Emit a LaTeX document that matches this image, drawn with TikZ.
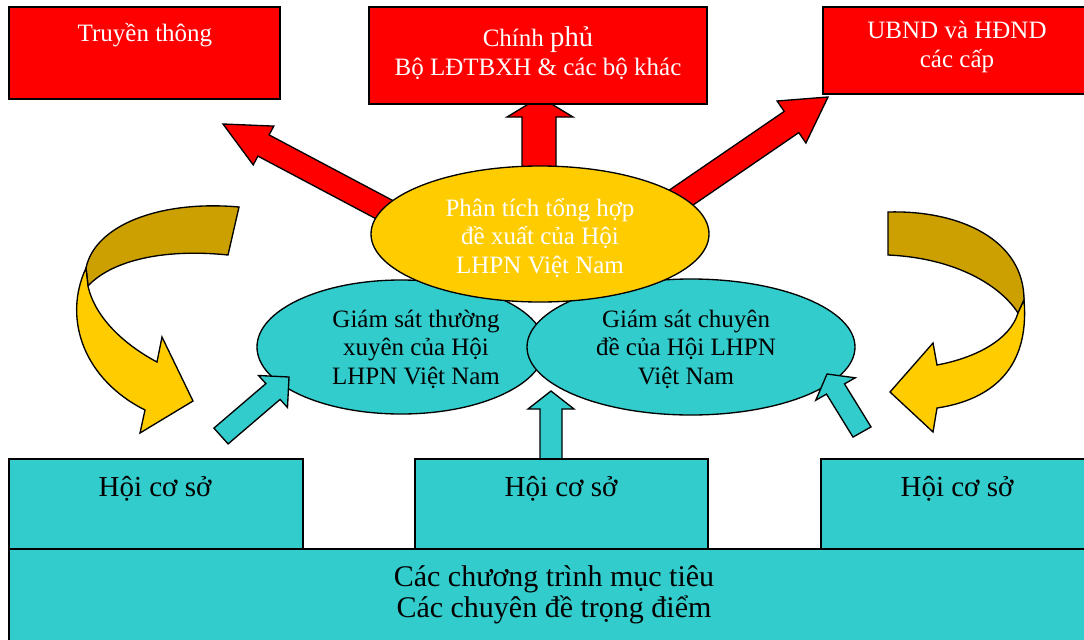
\documentclass[tikz,border=0pt]{standalone}
\usepackage{fontspec}
\setmainfont{Liberation Serif}
\usetikzlibrary{shapes.geometric}
\definecolor{rd}{RGB}{255,0,0}
\definecolor{cy}{RGB}{51,204,204}
\definecolor{yl}{RGB}{255,204,0}
\definecolor{gd}{RGB}{204,160,0}
\tikzset{
  box/.style={draw=black, line width=1pt, rectangle, inner sep=0pt},
  redbox/.style={box, fill=rd},
  cyanbox/.style={box, fill=cy},
  ell/.style={draw=black, line width=1pt, ellipse, inner sep=0pt},
  blockred/.style={draw=black, line width=1pt, fill=rd, line join=miter},
  blockcy/.style={draw=black, line width=1pt, fill=cy, line join=miter},
  curvdark/.style={draw=black, line width=1pt, fill=gd, line join=miter},
  curvyel/.style={draw=black, line width=1pt, fill=yl, line join=miter},
  wtxt/.style={text=white, align=center, inner sep=0pt, font=\fontsize{18.75pt}{21.75pt}\selectfont},
  etxt/.style={align=center, inner sep=0pt, font=\fontsize{18.75pt}{21.4pt}\selectfont},
  htxt/.style={align=center, inner sep=0pt, font=\fontsize{21.75pt}{24pt}\selectfont},
  btxt/.style={align=center, inner sep=0pt, font=\fontsize{22.5pt}{23.25pt}\selectfont}
}
\begin{document}
\begin{tikzpicture}[x=0.75pt,y=-0.75pt]
\useasboundingbox (0,0) rectangle (1084,639);
\clip (0,0) rectangle (1084,639);

% red block arrows (behind)
\draw[blockred] (540,97) -- (573,117) -- (556,117) -- (556,200) -- (522,200) -- (522,117) -- (507,117) -- cycle;
\draw[blockred] (223,124) -- (273.8,126.1) -- (269.1,134.9) -- (401.6,205.2) -- (390.4,226.4) -- (257.9,156.1) -- (253.2,164.9) -- cycle;
\draw[blockred] (828,97) -- (777.1,101) -- (784.2,111.4) -- (660.5,196.1) -- (675,217.4) -- (798.8,132.6) -- (805.9,143) -- cycle;

% top boxes
\node[redbox, minimum width=203.25pt, minimum height=69pt] (tt) at (144.5,53) {};
\node[redbox, minimum width=253.5pt, minimum height=72.75pt] (cp) at (538,55.5) {};
\node[redbox, minimum width=207.75pt, minimum height=65.25pt] (ub) at (961.5,50.5) {};
\node[wtxt] (tttext) at (145,35) {Truyền thông};
\node[wtxt] (cptext) at (538,53) {Chính {\fontsize{21.5pt}{21.75pt}\selectfont phủ}\\Bộ LĐTBXH \& các bộ khác};
\node[wtxt] (ubtext) at (957,47) {UBND và HĐND\\các cấp};

% ellipses
\node[ell, fill=cy, minimum width=216pt, minimum height=100.5pt] (gl) at (401,347) {};
\node[ell, fill=cy, minimum width=246pt, minimum height=102pt] (gr) at (691,347) {};
\node[ell, fill=yl, minimum width=253.5pt, minimum height=102pt] (yel) at (540,234) {};
\node[etxt, text=white] (yeltext) at (540,238) {Phân tích tổng hợp\\đề xuất của Hội\\LHPN Việt Nam};
\node[etxt] (gltext) at (416,349) {Giám sát thường\\xuyên của Hội\\LHPN Việt Nam};
\node[etxt] (grtext) at (686,349) {Giám sát chuyên\\đề của Hội LHPN\\Việt Nam};

% cyan block arrows
\draw[blockcy] (289,377) -- (258.5,375.5) -- (265.9,383.6) -- (213.9,428.1) -- (228.1,443.9) -- (280.1,399.4) -- (287.5,407.5) -- cycle;
\draw[blockcy] (551,391) -- (574,409) -- (562,409) -- (562,460) -- (540,460) -- (540,409) -- (528,409) -- cycle;
\draw[blockcy] (827,374) -- (855.2,377.8) -- (844.5,383.9) -- (871,426.9) -- (853,437.1) -- (826.5,394.1) -- (815.8,400.2) -- cycle;

% bottom boxes
\node[cyanbox, minimum width=818.25pt, minimum height=83.25pt] (base) at (554.5,604.5) {};
\node[cyanbox, minimum width=220.5pt, minimum height=67.5pt] (h1) at (156,504) {};
\node[cyanbox, minimum width=219.75pt, minimum height=67.5pt] (h2) at (561.5,504) {};
\node[cyanbox, minimum width=209.25pt, minimum height=67.5pt] (h3) at (960.5,504) {};
\node[htxt] (h1text) at (155,489) {Hội cơ sở};
\node[htxt] (h2text) at (561,489) {Hội cơ sở};
\node[htxt] (h3text) at (957,489) {Hội cơ sở};
\node[btxt] (basetext) at (554,595) {Các chương trình mục tiêu\\Các chuyên đề trọng điểm};

% curved arrows left
\draw[curvdark] (239,207) .. controls (160,200) and (95,225) .. (86,268) -- (88,286) .. controls (110,262) and (160,248) .. (228,255) -- cycle;
\draw[curvyel] (86,268) .. controls (62,320) and (85,380) .. (145,410) -- (140,433) -- (193,401) -- (162,337) -- (157,362) .. controls (125,345) and (95,318) .. (88,286) -- cycle;
% curved arrow right
\draw[curvdark] (888,212) .. controls (960,210) and (1024,240) .. (1024,300) -- (1018,313) .. controls (1000,285) and (955,258) .. (888,255) -- cycle;
\draw[curvyel] (1024,300) .. controls (1030,370) and (990,400) .. (937,408) -- (933,432) -- (890,392) -- (933,343) -- (937,365) .. controls (975,358) and (1010,340) .. (1018,313) -- cycle;
\end{tikzpicture}
\end{document}
